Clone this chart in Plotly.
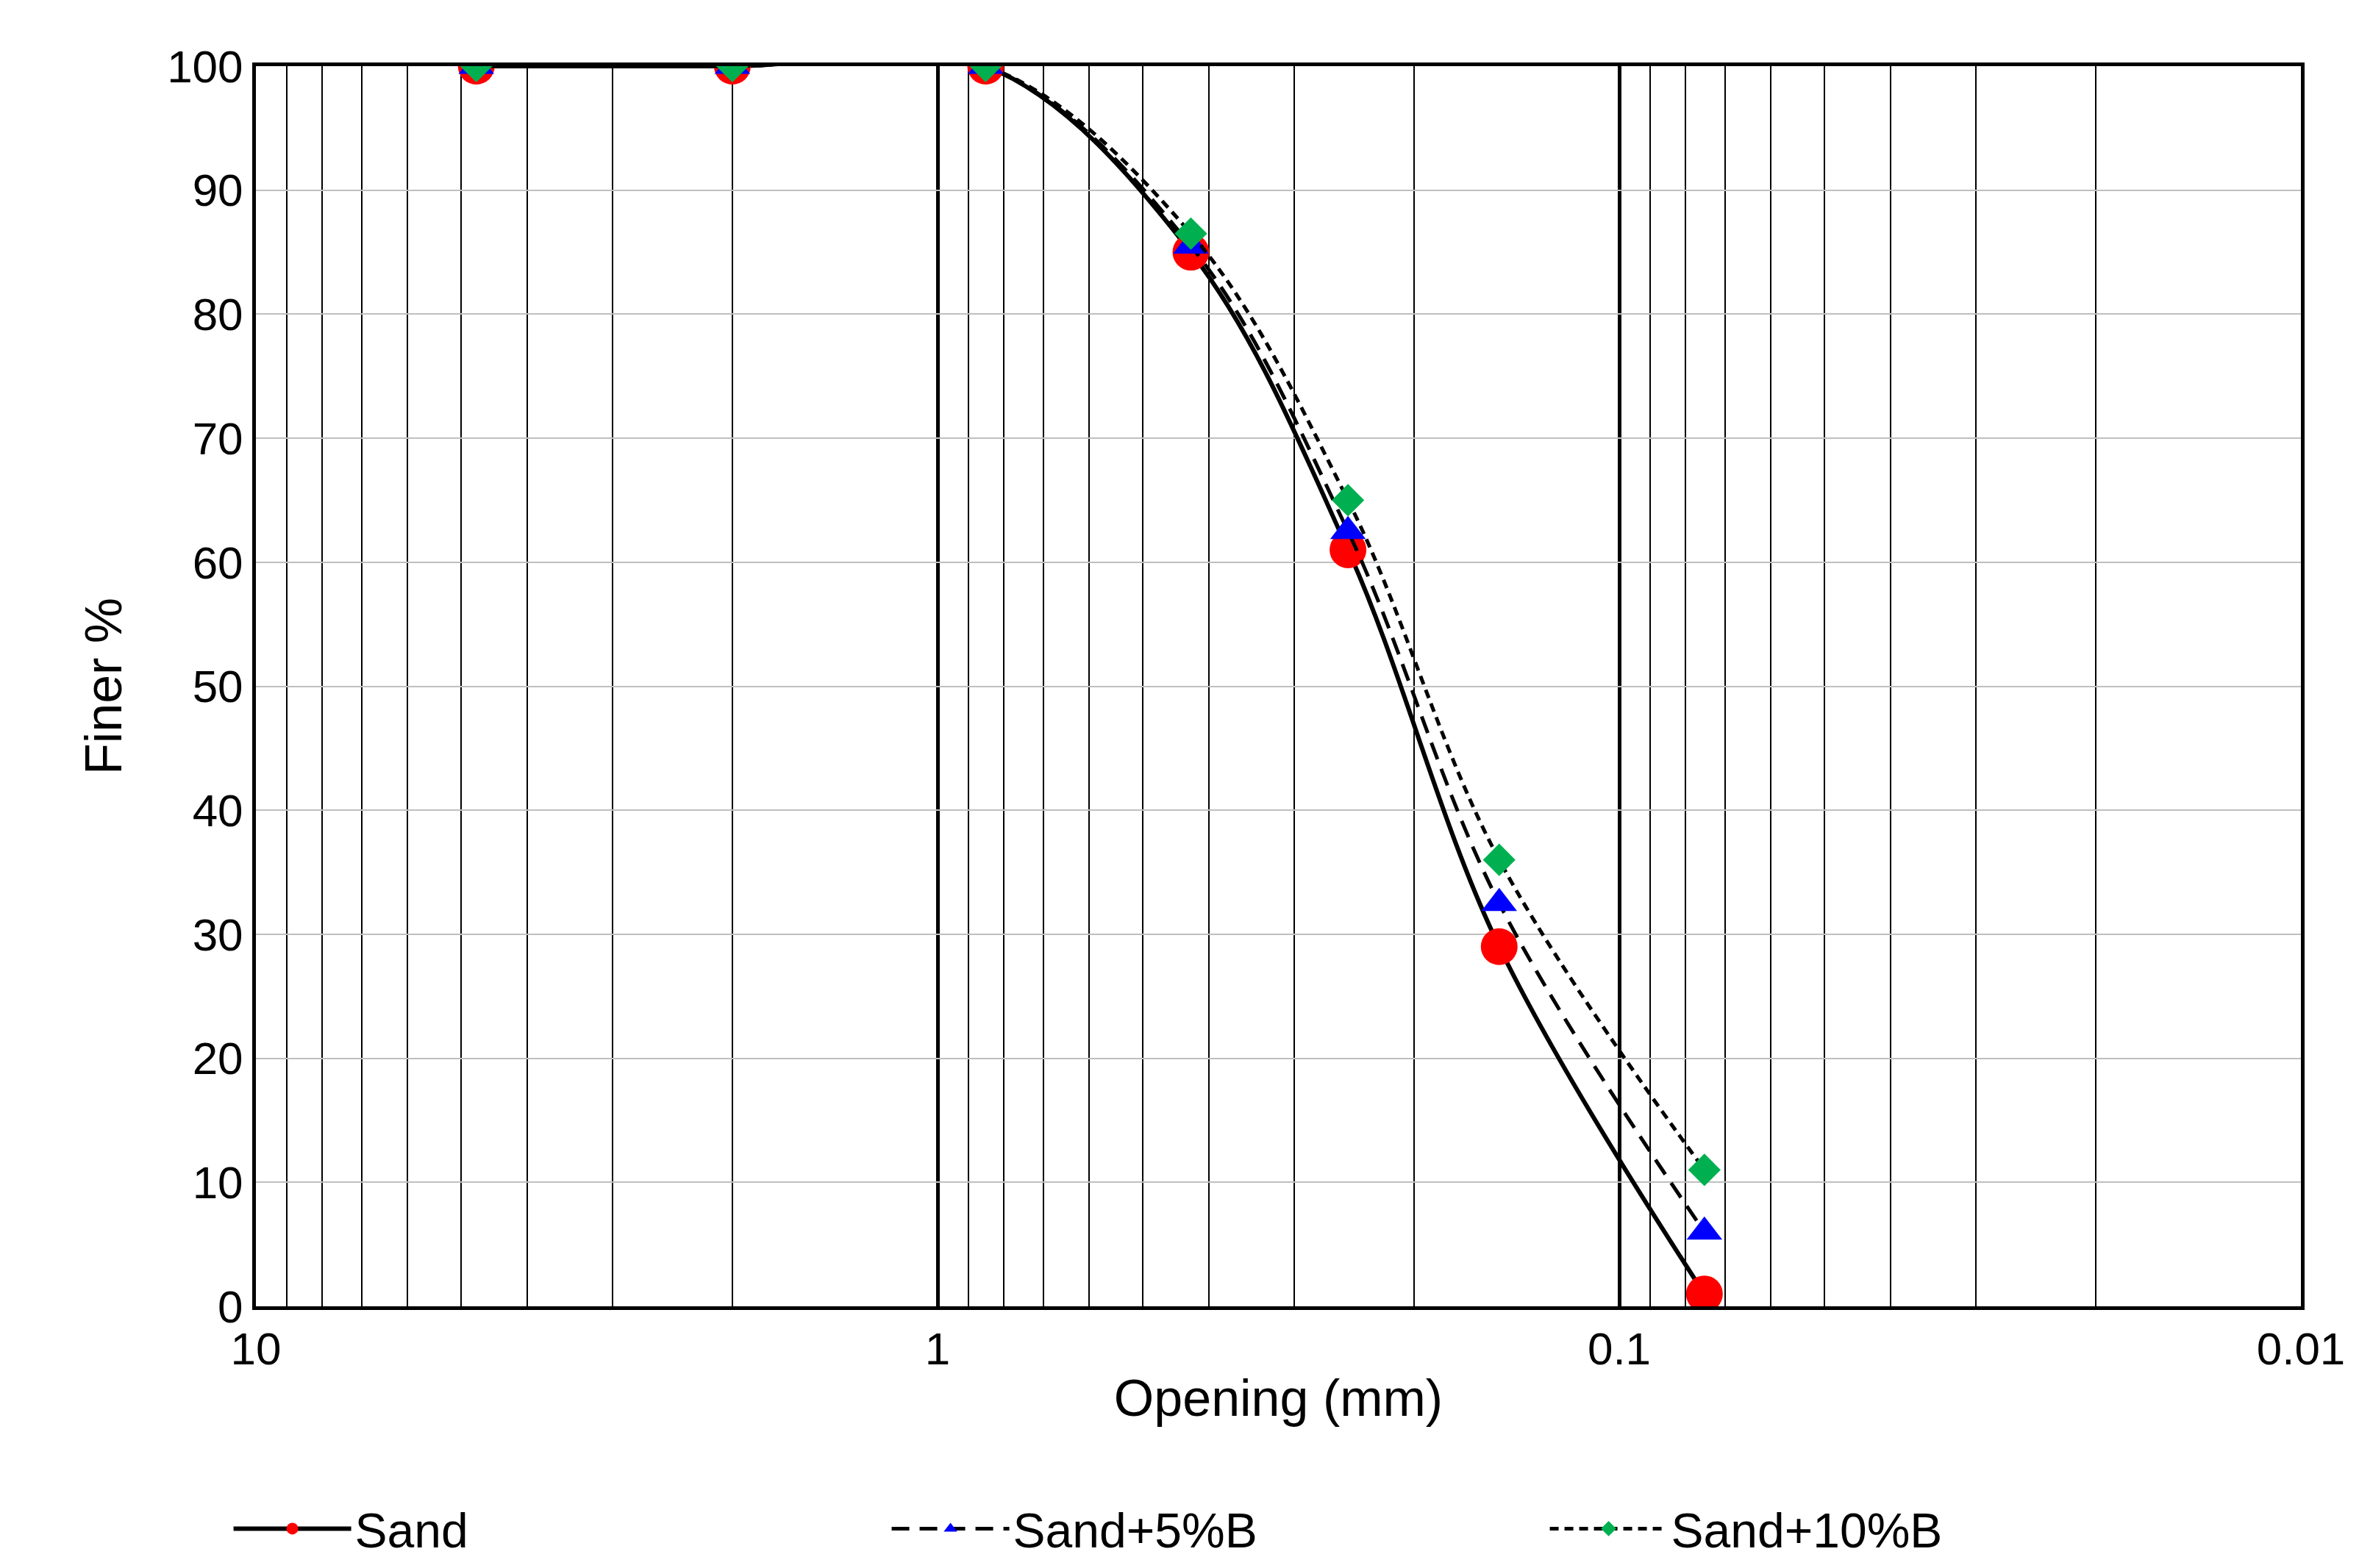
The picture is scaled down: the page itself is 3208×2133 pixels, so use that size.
import plotly.graph_objects as go

opening = [4.75, 2.0, 0.85, 0.425, 0.25, 0.15, 0.075]
sand = [100, 100, 100, 85, 61, 29, 1]
sand_5b = [100, 100, 100, 85.5, 62.5, 32.5, 6]
sand_10b = [100, 100, 100, 86.5, 65, 36, 11]

major_ticks = [10, 1, 0.1, 0.01]
minor_ticks = [m * d for d in (1, 0.1, 0.01) for m in range(2, 10)]

font = "Liberation Sans, Arial"

fig = go.Figure()
fig.add_trace(go.Scatter(x=opening, y=sand, name="Sand", mode="lines+markers",
                         line=dict(color="black", width=6, shape="spline"),
                         marker=dict(symbol="circle", size=50, color="#ff0000")))
fig.add_trace(go.Scatter(x=opening, y=sand_5b, name="Sand+5%B", mode="lines+markers",
                         line=dict(color="black", width=5, dash="24px,14px", shape="spline"),
                         marker=dict(symbol="triangle-up", size=42, color="#0000ff")))
fig.add_trace(go.Scatter(x=opening, y=sand_10b, name="Sand+10%B", mode="lines+markers",
                         line=dict(color="black", width=5, dash="12px,8px", shape="spline"),
                         marker=dict(symbol="diamond", size=34, color="#00b050")))

fig.update_layout(
    width=3208, height=2133,
    margin=dict(l=340, r=87, t=82, b=348),
    plot_bgcolor="white", paper_bgcolor="white",
    font=dict(family=font, size=62, color="black"),
    legend=dict(orientation="h", x=0.47, xanchor="center", y=-0.15, yanchor="top",
                font=dict(size=66), itemwidth=160, entrywidth=720),
)
fig.update_xaxes(type="log", range=[1, -2], tickvals=major_ticks,
                 ticktext=["10", "1", "0.1", "0.01"],
                 showgrid=True, gridcolor="black", gridwidth=5,
                 minor=dict(tickvals=minor_ticks, showgrid=True, gridcolor="black", gridwidth=2),
                 showline=True, linecolor="black", linewidth=5, mirror=True,
                 ticks="", title=dict(text="Opening (mm)", font=dict(size=70), standoff=10))
fig.update_yaxes(range=[0, 100], dtick=10, showgrid=True, gridcolor="#bfbfbf", gridwidth=2,
                 showline=True, linecolor="black", linewidth=5, mirror=True,
                 ticks="", zeroline=False,
                 title=dict(text="Finer %", font=dict(size=70), standoff=40))

fig.write_html("out.html")
